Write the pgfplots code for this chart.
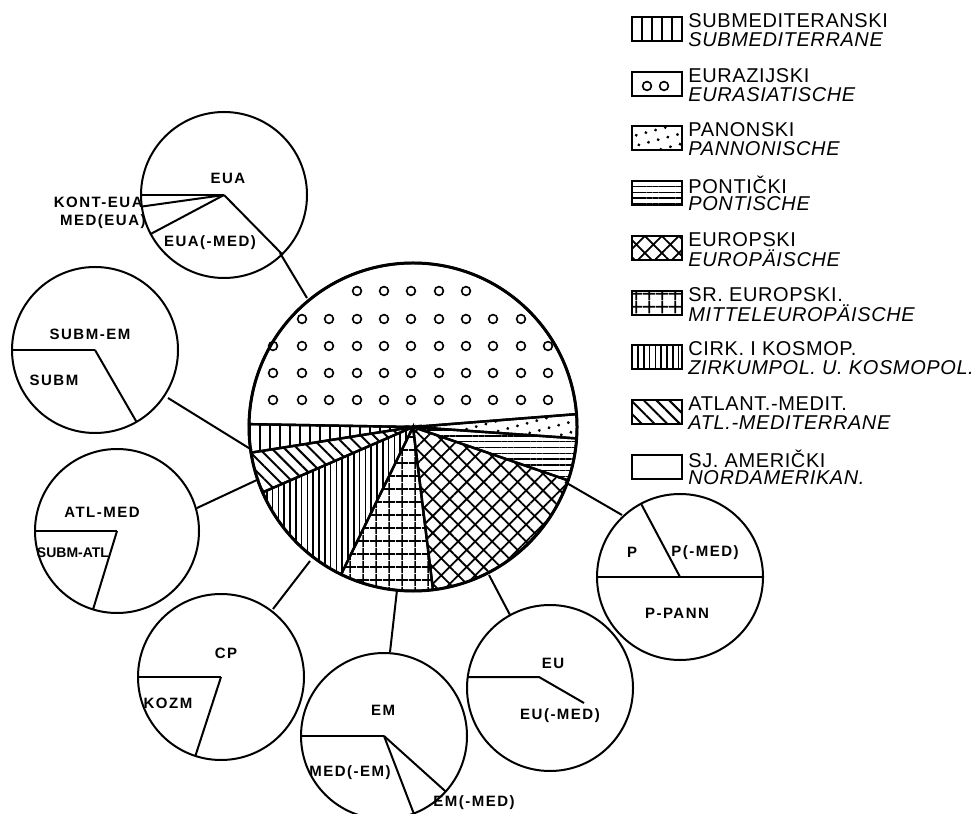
\documentclass[border=0pt]{standalone}
\usepackage{pgfplots}
\pgfplotsset{compat=1.18}
\usetikzlibrary{patterns,patterns.meta}
\usepackage{fontspec}
\setmainfont{Liberation Sans}
\newfontfamily\labfont[LetterSpace=10]{Liberation Sans}
\newfontfamily\legfont[LetterSpace=3]{Liberation Sans}
\newcommand{\pieslice}[6]{\path[#6] (axis cs:#1,#2) -- ++(#4:#3) arc[start angle=#4, end angle=#5, radius=#3] -- cycle;}
\newcommand{\spoke}[4]{\draw[line width=1pt] (axis cs:#1,#2) -- ++(#4:#3);}
\newcommand{\pielab}[3]{\node[inner sep=0pt,font=\fontsize{7.5}{9}\labfont\bfseries] at (axis cs:#1,#2) {#3};}
\newcommand{\legitem}[3]{% y_up of line1, text1, text2
  \node[anchor=west,inner sep=0pt,font=\fontsize{10}{12}\legfont] at (axis cs:688,#1+0.5) {#2};
  \node[anchor=west,inner sep=0pt,font=\fontsize{10}{12}\legfont\itshape] at (axis cs:688,#1-18.5) {#3};}
\begin{document}
\begin{tikzpicture}
\begin{axis}[x=0.5pt, y=0.5pt, xmin=0, xmax=977, ymin=0, ymax=813,
  hide axis, clip=false, at={(0,0)}, anchor=south west]
% ---- main pie (share in degrees) ----
\pieslice{413}{386}{164}{4.5}{179}{draw=black,line width=1.2pt}
\pieslice{413}{386}{164}{179}{189}{draw=black,line width=1.2pt,pattern={Lines[angle=90,distance=5pt,line width=1pt]}}
\pieslice{413}{386}{164}{189}{203.5}{draw=black,line width=1.2pt,pattern={Lines[angle=-45,distance=4.5pt,line width=1pt]}}
\pieslice{413}{386}{164}{203.5}{244}{draw=black,line width=1.2pt,pattern={Lines[angle=90,distance=2.9pt,line width=0.75pt]}}
\pieslice{413}{386}{164}{244}{277}{draw=black,line width=1.2pt,pattern={Hatch[angle=0,distance=6.5pt,line width=0.9pt]}}
\pieslice{413}{386}{164}{277}{341}{draw=black,line width=1.2pt,pattern={Hatch[angle=45,distance=6pt,line width=0.9pt]}}
\pieslice{413}{386}{164}{341}{356}{draw=black,line width=1.2pt,pattern={Lines[angle=0,distance=2.9pt,line width=0.7pt]}}
\pieslice{413}{386}{164}{356}{364.5}{draw=black,line width=1.2pt,pattern={Dots[angle=15,distance=5pt,radius=0.8pt]}}
\draw[line width=1.5pt] (axis cs:413,386) circle[radius=164];
\addplot[only marks, mark=o, mark size=2.2pt, mark options={line width=0.8pt}] coordinates {
(357,522) (384,522) (411,522) (439,522) (466,522)
(302,494) (329,494) (357,494) (384,494) (411,494) (439,494) (466,494) (493,494) (521,494)
(273,467) (302,467) (329,467) (357,467) (384,467) (411,467) (439,467) (466,467) (493,467) (521,467) (548,467)
(273,440) (302,440) (329,440) (357,440) (384,440) (411,440) (439,440) (466,440) (493,440) (521,440) (548,440)
(273,413) (302,413) (329,413) (357,413) (384,413) (411,413) (439,413) (466,413) (493,413) (521,413) (548,413)
};
% ---- satellite pies ----
\draw[line width=1pt] (axis cs:224,618) circle[radius=83];
\spoke{224}{618}{83}{180}\spoke{224}{618}{83}{188}\spoke{224}{618}{83}{208}\spoke{224}{618}{83}{314.5}
\pielab{228}{635}{EUA}\pielab{210}{570}{EUA(-MED)}
\node[anchor=east,inner sep=0pt,font=\fontsize{7.5}{9}\labfont\bfseries] at (axis cs:143,611) {KONT-EUA};
\node[anchor=east,inner sep=0pt,font=\fontsize{7.5}{9}\labfont\bfseries] at (axis cs:146,591) {MED(EUA)};
\draw[line width=1pt] (axis cs:280,560) -- (axis cs:307,515);

\draw[line width=1pt] (axis cs:95,463) circle[radius=83];
\spoke{95}{463}{83}{180}\spoke{95}{463}{83}{300}
\pielab{90}{479}{SUBM-EM}\pielab{54}{433}{SUBM}
\draw[line width=1pt] (axis cs:168,415) -- (axis cs:252,363);

\draw[line width=1pt] (axis cs:117,282) circle[radius=82];
\spoke{117}{282}{82}{180}\spoke{117}{282}{82}{253}
\pielab{102}{301}{ATL-MED}
\node[inner sep=0pt,font=\fontsize{7}{9}\bfseries] at (axis cs:73,260) {SUBM-ATL};
\draw[line width=1pt] (axis cs:197,305) -- (axis cs:259,334);

\draw[line width=1pt] (axis cs:221,136) circle[radius=83];
\spoke{221}{136}{83}{180}\spoke{221}{136}{83}{252}
\pielab{226}{160}{CP}\pielab{168}{110}{KOZM}
\draw[line width=1pt] (axis cs:273,204) -- (axis cs:310,252);

\draw[line width=1pt] (axis cs:384,77) circle[radius=83];
\spoke{384}{77}{83}{180}\spoke{384}{77}{83}{291}\spoke{384}{77}{83}{318}
\pielab{383}{103}{EM}\pielab{350}{40}{MED(-EM)}\pielab{474}{10}{EM(-MED)}
\draw[line width=1pt] (axis cs:390,161) -- (axis cs:397,223);

\draw[line width=1pt] (axis cs:550,125) circle[radius=83];
\draw[line width=1pt] (axis cs:467.7,136) -- (axis cs:539,136) -- (axis cs:584,110);
\pielab{553}{150}{EU}\pielab{560}{97}{EU(-MED)}
\draw[line width=1pt] (axis cs:489,238) -- (axis cs:510,198);

\draw[line width=1pt] (axis cs:680,236) circle[radius=83];
\spoke{680}{236}{83}{0}\spoke{680}{236}{83}{180}\spoke{680}{236}{83}{118}
\pielab{632}{261}{P}\pielab{705}{260}{P(-MED)}\pielab{677}{200}{P-PANN}
\draw[line width=1pt] (axis cs:622,298) -- (axis cs:565,331);
% ---- legend ----
\draw[line width=1pt] (axis cs:632,772) rectangle (axis cs:682,796);
\draw[line width=1pt] (axis cs:642,772) -- (axis cs:642,796);
\draw[line width=1pt] (axis cs:652,772) -- (axis cs:652,796);
\draw[line width=1pt] (axis cs:662,772) -- (axis cs:662,796);
\draw[line width=1pt] (axis cs:672,772) -- (axis cs:672,796);
\legitem{792}{SUBMEDITERANSKI}{SUBMEDITERRANE}
\draw[line width=1pt] (axis cs:632,717.25) rectangle (axis cs:682,741.25);
\addplot[only marks, mark=o, mark size=2.2pt, mark options={line width=0.8pt}] coordinates {(647,727) (664,727)};
\legitem{737.25}{EURAZIJSKI}{EURASIATISCHE}
\path[draw=black,line width=1pt,pattern={Dots[angle=15,distance=5pt,radius=0.8pt]}] (axis cs:632,662.5) rectangle (axis cs:682,686.5);
\legitem{682.5}{PANONSKI}{PANNONISCHE}
\path[draw=black,line width=1pt,pattern={Lines[angle=0,distance=2.9pt,line width=0.7pt]}] (axis cs:632,607.75) rectangle (axis cs:682,631.75);
\legitem{627.75}{PONTIČKI}{PONTISCHE}
\path[draw=black,line width=1pt,pattern={Hatch[angle=45,distance=6pt,line width=0.9pt]}] (axis cs:632,553) rectangle (axis cs:682,577);
\legitem{573}{EUROPSKI}{EUROPÄISCHE}
\path[draw=black,line width=1pt,pattern={Hatch[angle=0,distance=6.5pt,line width=0.9pt]}] (axis cs:632,498.25) rectangle (axis cs:682,522.25);
\legitem{518.25}{SR. EUROPSKI.}{MITTELEUROPÄISCHE}
\path[draw=black,line width=1pt,pattern={Lines[angle=90,distance=2.9pt,line width=0.75pt]}] (axis cs:632,443.5) rectangle (axis cs:682,467.5);
\legitem{463.5}{CIRK. I KOSMOP.}{ZIRKUMPOL. U. KOSMOPOL.}
\path[draw=black,line width=1pt,pattern={Lines[angle=-45,distance=4.5pt,line width=1pt]}] (axis cs:632,388.75) rectangle (axis cs:682,412.75);
\legitem{408.75}{ATLANT.-MEDIT.}{ATL.-MEDITERRANE}
\draw[line width=1pt] (axis cs:632,334) rectangle (axis cs:682,358);
\legitem{354}{SJ. AMERIČKI}{NORDAMERIKAN.}
\end{axis}
\pgfresetboundingbox
\path[use as bounding box] (current axis.south west) rectangle (current axis.north east);
\end{tikzpicture}
\end{document}
